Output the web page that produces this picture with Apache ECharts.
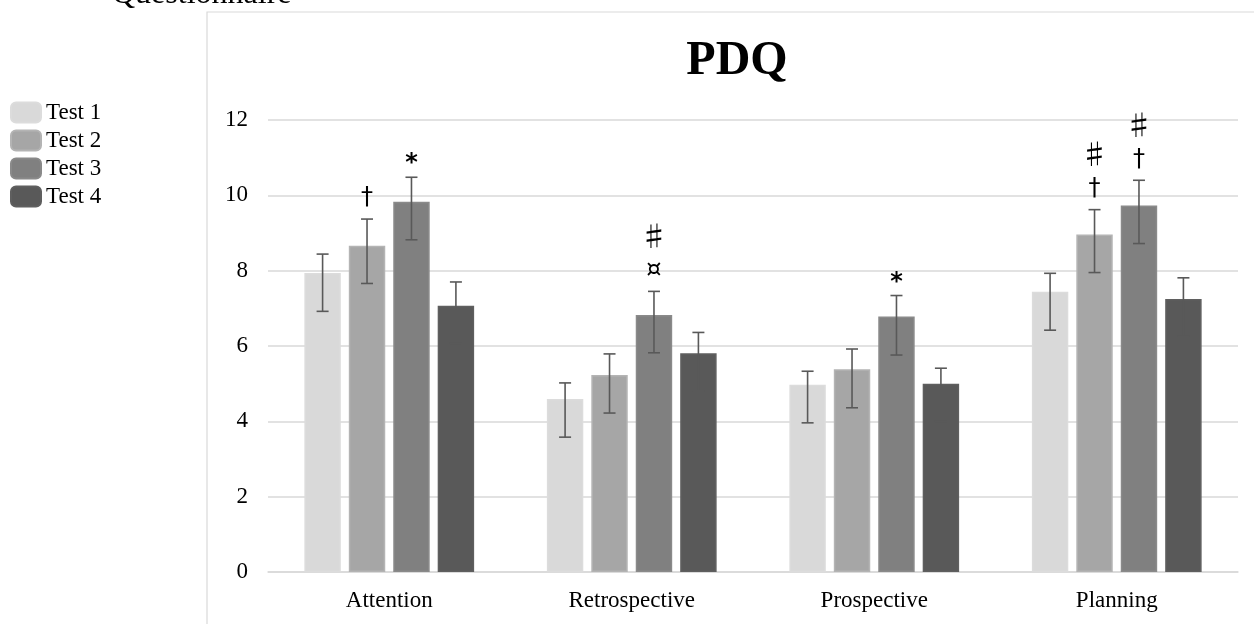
<!DOCTYPE html>
<html>
<head>
<meta charset="utf-8">
<script src="https://cdn.jsdelivr.net/npm/echarts@6/dist/echarts.min.js"></script>
<style>
  html, body { margin: 0; padding: 0; background: #fff; }
  #chart { width: 1254px; height: 624px; }
</style>
</head>
<body>
<div id="chart"></div>
<script>
// categories and series
var categories = ['Attention', 'Retrospective', 'Prospective', 'Planning'];
var seriesNames = ['Test 1', 'Test 2', 'Test 3', 'Test 4'];

var test1 = [7.94, 4.59, 4.97, 7.44];
var test2 = [8.66, 5.23, 5.38, 8.96];
var test3 = [9.83, 6.82, 6.78, 9.73];
var test4 = [7.07, 5.81, 5.00, 7.25];

// error bar ends (upper / lower)
var upper1 = [8.44, 5.02, 5.33, 7.93];
var lower1 = [6.92, 3.58, 3.96, 6.42];
var upper2 = [9.37, 5.79, 5.92, 9.62];
var lower2 = [7.66, 4.22, 4.36, 7.95];
var upper3 = [10.48, 7.45, 7.34, 10.40];
var lower3 = [8.82, 5.82, 5.76, 8.72];
var upper4 = [7.70, 6.36, 5.41, 7.81];
var lower4 = [6.07, 4.81, 4.00, 6.25];

// significance marks above the bars
var notes1 = ['', '', '', ''];
var notes2 = ['\u2020', '', '', '\u266F\n\u2020'];
var notes3 = ['*', '\u266F\n\u00A4', '*', '\u266F\n\u2020'];
var notes4 = ['', '', '', ''];

var colors = ['#d9d9d9', '#a6a6a6', '#808080', '#595959'];
var borders = ['#dcdcdc', '#b4b4b4', '#8a8a8a', '#5f5f5f'];
var FONT = '"Liberation Serif", "Times New Roman", serif';

var values = [test1, test2, test3, test4];
var uppers = [upper1, upper2, upper3, upper4];
var lowers = [lower1, lower2, lower3, lower4];
var notes = [notes1, notes2, notes3, notes4];

var CAT_GAP = 0.30;
var BAR_GAP = 0.22;

// rich styles for the note glyphs
var glyphStyle = {
  '\u266F': 'sharp',
  '\u2020': 'dag',
  '\u00A4': 'cur',
  '*': 'ast'
};
var noteRich = {
  sharp: { font: '28px "Noto Sans CJK JP", "DejaVu Sans", sans-serif', lineHeight: 34, fill: '#000' },
  dag: { font: '24px "DejaVu Sans", sans-serif', lineHeight: 34, fill: '#000' },
  cur: { font: '24px "DejaVu Sans", sans-serif', lineHeight: 34, fill: '#000' },
  ast: { font: 'bold 24px "DejaVu Sans", sans-serif', lineHeight: 34, fill: '#000' }
};

function richNote(note) {
  return note.split('\n').map(function (ch) {
    return '{' + glyphStyle[ch] + '|' + ch + '}';
  }).join('\n');
}

var chart = echarts.init(document.getElementById('chart'));

function errorSeries(idx) {
  return {
    type: 'custom',
    name: seriesNames[idx] + ' err',
    z: 10,
    silent: true,
    data: categories.map(function (c, i) {
      return [i, lowers[idx][i], uppers[idx][i]];
    }),
    renderItem: function (params, api) {
      var i = api.value(0);
      var band = api.size([1, 0])[0];
      var total = band * (1 - CAT_GAP);
      var bw = total / (4 + 3 * BAR_GAP);
      var off = -total / 2 + bw / 2 + idx * bw * (1 + BAR_GAP);
      var lo = api.coord([i, api.value(1)]);
      var hi = api.coord([i, api.value(2)]);
      var x = lo[0] + off;
      var cap = 6;
      var st = { stroke: '#595959', lineWidth: 1.6 };
      var children = [
        { type: 'line', shape: { x1: x, y1: lo[1], x2: x, y2: hi[1] }, style: st },
        { type: 'line', shape: { x1: x - cap, y1: hi[1], x2: x + cap, y2: hi[1] }, style: st },
        { type: 'line', shape: { x1: x - cap, y1: lo[1], x2: x + cap, y2: lo[1] }, style: st }
      ];
      var note = notes[idx][i];
      if (note) {
        // asterisk sits high in its box, push it down a bit
        var shift = note === '*' ? 12 : 4;
        children.push({
          type: 'text',
          style: {
            x: x,
            y: hi[1] - 8 + shift,
            text: richNote(note),
            rich: noteRich,
            align: 'center',
            verticalAlign: 'bottom'
          }
        });
      }
      return { type: 'group', children: children };
    }
  };
}

var series = [];
seriesNames.forEach(function (name, idx) {
  series.push({
    name: name,
    type: 'bar',
    data: values[idx],
    barCategoryGap: (CAT_GAP * 100) + '%',
    barGap: (BAR_GAP * 100) + '%',
    itemStyle: { color: colors[idx], borderColor: borders[idx], borderWidth: 1.5 }
  });
});
seriesNames.forEach(function (name, idx) {
  series.push(errorSeries(idx));
});

var option = {
  backgroundColor: '#fff',
  animation: false,
  textStyle: { fontFamily: FONT },
  graphic: [
    {
      // chart area frame
      type: 'rect',
      shape: { x: 207, y: 12, width: 1200, height: 700 },
      style: { fill: 'none', stroke: '#d9d9d9', lineWidth: 1.2 },
      z: -1
    },
    {
      type: 'text',
      x: 112, y: 11,
      style: { text: 'Questionnaire', font: '32px ' + FONT, fill: '#000', verticalAlign: 'bottom' }
    },
    {
      type: 'text',
      x: 737, y: 62,
      style: { text: 'PDQ', font: 'bold 48px ' + FONT, fill: '#000', align: 'center', verticalAlign: 'middle' }
    }
  ],
  legend: {
    orient: 'vertical',
    left: 5,
    top: 96,
    itemWidth: 30,
    itemHeight: 20,
    itemGap: 5,
    icon: 'roundRect',
    data: seriesNames,
    textStyle: { fontFamily: FONT, fontSize: 23, color: '#000' }
  },
  grid: { left: 268, right: 16, top: 120, bottom: 52 },
  xAxis: {
    type: 'category',
    data: categories,
    axisLine: { lineStyle: { color: '#d9d9d9', width: 1.5 } },
    axisTick: { show: false },
    axisLabel: { fontFamily: FONT, fontSize: 23, color: '#000', margin: 17 }
  },
  yAxis: {
    type: 'value',
    min: 0,
    max: 12,
    interval: 2,
    axisLine: { show: false },
    axisTick: { show: false },
    splitLine: { lineStyle: { color: '#d9d9d9', width: 1.5 } },
    axisLabel: { fontFamily: FONT, fontSize: 23, color: '#000', margin: 20 }
  },
  series: series
};

chart.setOption(option);
</script>
</body>
</html>
